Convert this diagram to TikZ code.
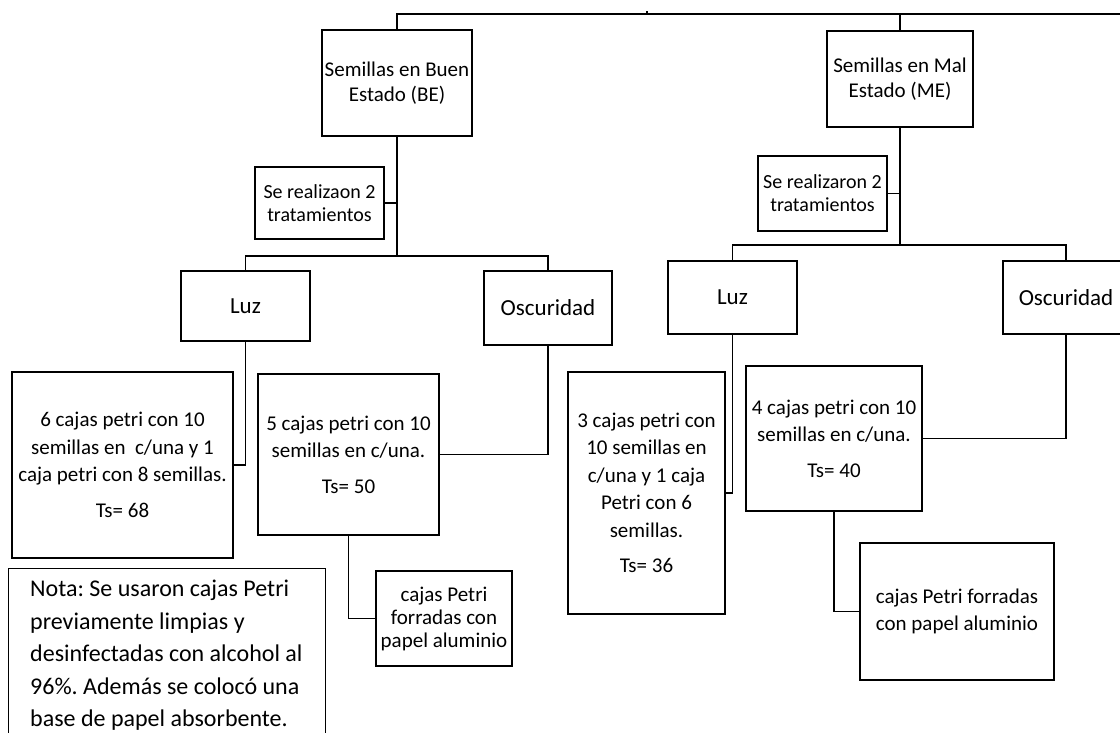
\documentclass[tikz,border=0pt]{standalone}
\usepackage{fontspec}
\setmainfont{Carlito}
\frenchspacing
\begin{document}
\begin{tikzpicture}[x=1pt,y=-1pt,
  box/.style={draw, line width=1.1pt, align=center, inner sep=0pt},
  conn/.style={line width=1.1pt},
  ftitle/.style={font=\fontsize{21}{25}\selectfont},
  fsmall/.style={font=\fontsize{20}{23}\selectfont},
  flabel/.style={font=\fontsize{23}{27}\selectfont},
  fbody/.style={font=\fontsize{21}{27.5}\selectfont},
  fnota/.style={font=\fontsize{24}{32.5}\selectfont}]
\useasboundingbox (0,0) rectangle (1120,732);
\clip (0,0) rectangle (1120,732);

% level 1
\node[box, ftitle, minimum width=150pt, minimum height=106pt] (BE) at (397,83) {Semillas en Buen\\Estado (BE)};
\node[box, ftitle, minimum width=146pt, minimum height=96pt] (ME) at (900,79) {Semillas en Mal\\Estado (ME)};

% treatment notes
\node[box, fsmall, minimum width=129pt, minimum height=72pt] (SR1) at (319.5,203) {Se realizaon 2\\tratamientos};
\node[box, fsmall, minimum width=129pt, minimum height=75pt] (SR2) at (822.5,193.5) {Se realizaron 2\\tratamientos};

% level 2
\node[box, flabel, minimum width=129pt, minimum height=70pt] (L1) at (245.5,306) {Luz};
\node[box, flabel, minimum width=128pt, minimum height=74pt] (O1) at (548,308) {Oscuridad};
\node[box, flabel, minimum width=129pt, minimum height=73pt] (L2) at (732.5,297.5) {Luz};
\node[box, flabel, minimum width=126pt, minimum height=73pt] (O2) at (1066,297.5) {Oscuridad};

% level 3
\node[box, fbody, minimum width=221pt, minimum height=186pt] (B1) at (122.5,465) {6 cajas petri con 10\\semillas en\ \ c/una y 1\\caja petri con 8 semillas.\\[8pt]Ts= 68};
\node[box, fbody, minimum width=181pt, minimum height=161pt] (B2) at (348.5,454.5) {5 cajas petri con 10\\semillas en c/una.\\[8pt]Ts= 50};
\node[box, fbody, minimum width=157pt, minimum height=242pt] (B3) at (646.5,493) {3 cajas petri con\\10 semillas en\\c/una y 1 caja\\Petri con 6\\semillas.\\[8pt]Ts= 36};
\node[box, fbody, minimum width=176pt, minimum height=145pt] (B4) at (834,438.5) {4 cajas petri con 10\\semillas en c/una.\\[8pt]Ts= 40};

% level 4
\node[box, fbody, minimum width=136pt, minimum height=95pt, font=\fontsize{21}{23}\selectfont] (C1) at (444,618.5) {cajas Petri\\forradas con\\papel aluminio};
\node[box, fbody, minimum width=194pt, minimum height=137pt] (C2) at (957,611.5) {cajas Petri forradas\\con papel aluminio};

% note
\node[box, minimum width=317pt, minimum height=200pt, anchor=north west] (nota) at (8,568) {};
\node[fnota, align=left, anchor=north west, inner sep=0pt] (notatext) at (30,580) {Nota: Se usaron cajas Petri\\previamente limpias y\\desinfectadas con alcohol al\\96\%. Además se colocó una\\base de papel absorbente.};

% connectors
\coordinate (topR) at (1120,14);
\coordinate (tick) at (647,14);
\coordinate (barL) at (397,256);
\coordinate (barR) at (900,245);
\draw[conn] (BE.north) |- (topR);
\draw[conn] (ME.north) -- (ME.north |- topR);
\draw[conn] (tick) -- ++(0,-3);

\draw[conn] (BE.south) -- (barL);
\draw[conn] (L1.north) |- (O1.north |- barL) -- (O1.north);
\draw[conn] (SR1.east) -- (SR1.east -| BE.south);

\draw[conn] (ME.south) -- (barR);
\draw[conn] (L2.north) |- (O2.north |- barR) -- (O2.north);
\draw[conn] (SR2.east) -- (SR2.east -| ME.south);

\draw[conn] (L1.south) |- (B1.east);
\draw[conn] (O1.south) |- (B2.east);
\draw[conn] (L2.south) |- (B3.east);
\draw[conn] (O2.south) |- (B4.east);

\draw[conn] (B2.south) |- (C1.west);
\draw[conn] (B4.south) |- (C2.west);
\end{tikzpicture}
\end{document}
